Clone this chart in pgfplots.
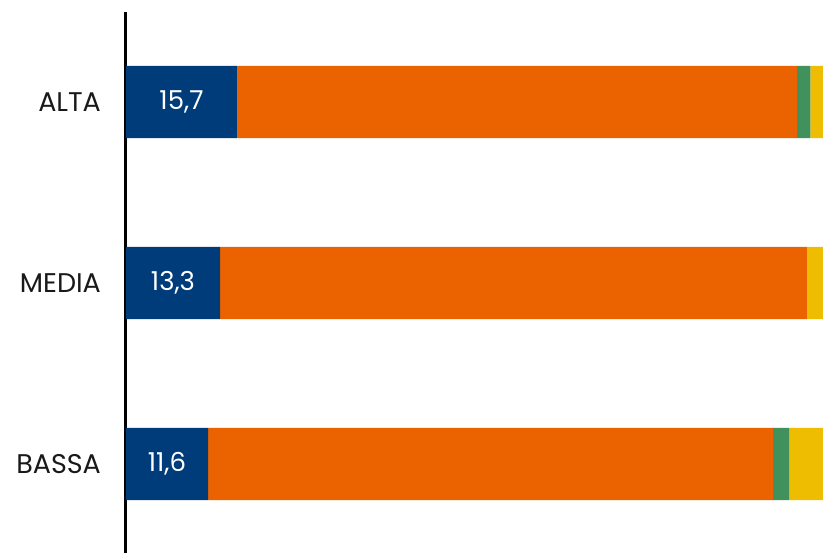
\documentclass[border=0pt]{standalone}
\usepackage{pgfplots}
\pgfplotsset{compat=1.18}
\usepackage{fontspec}
\setmainfont{Poppins}
\definecolor{cblue}{RGB}{0,59,122}
\definecolor{corange}{RGB}{235,98,0}
\definecolor{cgreen}{RGB}{64,145,91}
\definecolor{cyellow}{RGB}{238,188,0}
\begin{document}
\begin{tikzpicture}
\begin{axis}[
  scale only axis,
  width=348.5pt, height=270.5pt,
  xbar stacked,
  bar width=0.4,
  xmin=0, xmax=98.6,
  ymin=-0.492, ymax=2.497,
  axis x line=none,
  axis y line*=left,
  y axis line style={-, line width=1.5pt, black},
  ytick={0,1,2},
  yticklabels={BASSA,MEDIA,ALTA},
  major tick length=0pt,
  yticklabel style={font=\fontsize{13.5}{15}\selectfont, text=black!90, anchor=east, xshift=-9pt},
  clip=true,
]
\addplot[fill=cblue, draw=none,
  nodes near coords={\pgfmathprintnumber[use comma,fixed,fixed zerofill,precision=1,assume math mode=true]{\pgfplotspointmeta}},
  every node near coord/.append style={text=white, font=\fontsize{13}{15}\selectfont, anchor=center},
] coordinates {(11.6,0) (13.3,1) (15.7,2)};
\addplot[fill=corange, draw=none] coordinates {(79.9,0) (83.0,1) (79.2,2)};
\addplot[fill=cgreen, draw=none] coordinates {(2.3,0) (0,1) (1.9,2)};
\addplot[fill=cyellow, draw=none] coordinates {(6.2,0) (3.7,1) (3.2,2)};
\end{axis}
\pgfresetboundingbox
\path (-63pt,0pt) rectangle (348.5pt,276.5pt);
\end{tikzpicture}
\end{document}
